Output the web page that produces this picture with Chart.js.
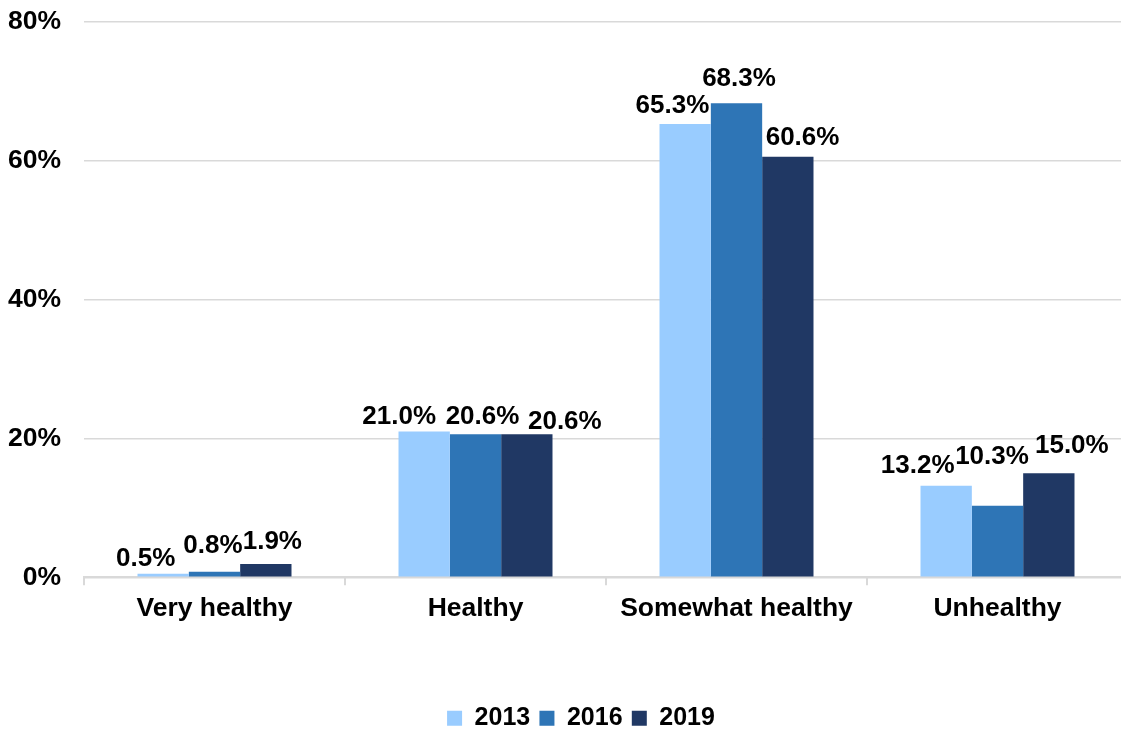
<!DOCTYPE html>
<html>
<head>
<meta charset="utf-8">
<script src="https://cdn.jsdelivr.net/npm/chart.js@4/dist/chart.umd.min.js"></script>
<style>
  html, body { margin: 0; padding: 0; background: #fff; overflow: hidden; }
  #wrap { width: 1162px; height: 729px; }
</style>
</head>
<body>
<div id="wrap"><canvas id="healthChart" width="1162" height="729"></canvas></div>
<script>
const categories = ["Very healthy", "Healthy", "Somewhat healthy", "Unhealthy"];
const years = ["2013", "2016", "2019"];
const share2013 = [0.5, 21.0, 65.3, 13.2];
const share2016 = [0.8, 20.6, 68.3, 10.3];
const share2019 = [1.9, 20.6, 60.6, 15.0];
const yearColors = ["#99CCFF", "#2E75B6", "#203864"];
const yMax = 80;
const yStep = 20;

// hand nudges so neighbouring value labels don't collide (per year, per category)
const labelShiftX = [[-17.5, -25, -12.7, -28.5], [-1.5, 7, 2.5, -5.5], [6.5, 38, 14.7, 23]];
const labelLift = [[-2.2, -3, 1.5, 3], [9, -0.2, 7.3, 31.4], [5.5, -4.5, 1.8, 10.4]];

const FONT = '"Liberation Sans", Arial, sans-serif';
Chart.defaults.font.family = FONT;

const valueLabels = {
  id: "valueLabels",
  afterDatasetsDraw(chart) {
    const { ctx } = chart;
    ctx.save();
    ctx.font = "bold 26px " + FONT;
    ctx.fillStyle = "#000";
    ctx.textAlign = "center";
    ctx.textBaseline = "alphabetic";
    chart.data.datasets.forEach((ds, i) => {
      chart.getDatasetMeta(i).data.forEach((bar, j) => {
        const text = ds.data[j].toFixed(1) + "%";
        ctx.fillText(text, bar.x + labelShiftX[i][j], bar.y - 10 - labelLift[i][j]);
      });
    });
    ctx.restore();
  }
};

const series = [share2013, share2016, share2019];

new Chart(document.getElementById("healthChart"), {
  type: "bar",
  data: {
    labels: categories,
    datasets: years.map((y, i) => ({
      label: y,
      data: series[i],
      backgroundColor: yearColors[i],
      borderWidth: 0,
      barPercentage: 1,
      categoryPercentage: 0.59
    }))
  },
  options: {
    responsive: false,
    animation: false,
    layout: { padding: { top: 22, left: 0, right: 0, bottom: -11.75 } },
    plugins: {
      tooltip: { enabled: false },
      legend: {
        position: "bottom",
        labels: {
          boxWidth: 15,
          boxHeight: 15,
          padding: 9.25,
          color: "#000",
          font: { size: 25, weight: "bold" }
        }
      }
    },
    scales: {
      x: {
        grid: { offset: true, drawOnChartArea: false, tickLength: 8, color: "#d9d9d9", lineWidth: 2 },
        border: { color: "#d9d9d9", width: 2 },
        ticks: { color: "#000", padding: 8, font: { size: 26.5, weight: "bold" } },
        afterFit(scale) { scale.height = 119.25; }
      },
      y: {
        min: 0,
        max: yMax,
        // invisible tick marks keep the labels clear of the gridlines
        grid: { color: "#d9d9d9", lineWidth: 1.5, tickLength: 23, tickColor: "rgba(0,0,0,0)" },
        border: { display: false },
        ticks: {
          stepSize: yStep,
          padding: 0,
          color: "#000",
          font: { size: 26.5, weight: "bold" },
          callback: v => v + "%"
        },
        afterFit(scale) { scale.width = 84; }
      },
      // spacer on the right so the plot runs past the visible edge
      yRight: {
        position: "right",
        grid: { display: false },
        border: { display: false },
        ticks: { display: false },
        afterFit(scale) { scale.width = 34; }
      }
    }
  },
  plugins: [valueLabels]
});
</script>
</body>
</html>
